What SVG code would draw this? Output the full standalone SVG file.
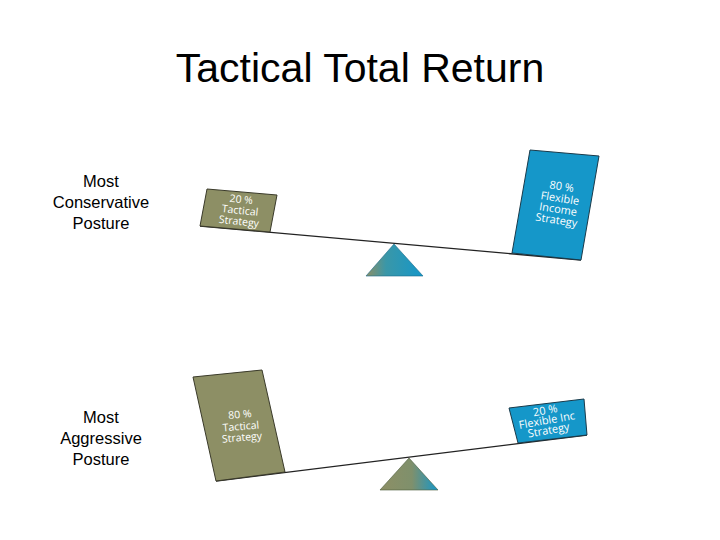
<svg xmlns="http://www.w3.org/2000/svg" width="720" height="540" viewBox="0 0 720 540">
<defs>
<linearGradient id="gTop" x1="0" y1="0" x2="1" y2="0">
<stop offset="0" stop-color="#8d8f65"/>
<stop offset="0.35" stop-color="#3a97a8"/>
<stop offset="1" stop-color="#1597c9"/>
</linearGradient>
<linearGradient id="gBot" x1="0" y1="0" x2="1" y2="0">
<stop offset="0" stop-color="#8d8f65"/>
<stop offset="0.55" stop-color="#7f906c"/>
<stop offset="1" stop-color="#1597c9"/>
</linearGradient>
<style>
.title{font-family:"Liberation Sans",Arial,sans-serif;font-size:41px;fill:#000}
.lbl{font-family:"Liberation Sans",Arial,sans-serif;font-size:16.5px;fill:#000;text-anchor:middle}
.olive{fill:#8d8f65;stroke:#3a3a2a;stroke-width:1}
.blue{fill:#1597c9;stroke:#1a3a4a;stroke-width:1}
.bt{font-family:"Open Sans","DejaVu Sans",sans-serif;font-size:10.5px;fill:#ffffff;text-anchor:middle}
.bt2{font-family:"Open Sans","DejaVu Sans",sans-serif;font-size:11px;fill:#ffffff;text-anchor:middle}
.beam{stroke:#222;stroke-width:1.3;fill:none}
</style>
</defs>
<rect width="720" height="540" fill="#ffffff"/>
<text class="title" x="360" y="82" text-anchor="middle">Tactical Total Return</text>

<g id="label-conservative">
<text class="lbl" x="101" y="187">Most</text>
<text class="lbl" x="101" y="208">Conservative</text>
<text class="lbl" x="101" y="229">Posture</text>
</g>
<g id="label-aggressive">
<text class="lbl" x="101" y="423">Most</text>
<text class="lbl" x="101" y="444">Aggressive</text>
<text class="lbl" x="101" y="465">Posture</text>
</g>

<g id="connectors">
<line class="beam" x1="200" y1="226" x2="581" y2="260"/>
<line class="beam" x1="216" y1="481" x2="587" y2="435"/>
</g>

<g id="top-fulcrum">
<polygon points="394,244 366,276 423,276" fill="url(#gTop)" stroke="#1a6a8a" stroke-width="0.6"/>
</g>
<g id="top-tactical">
<polygon class="olive" points="207,189 277,195 270,232 200,226"/>
<g transform="translate(240,211) rotate(6)">
<text class="bt" x="0" y="-8">20 %</text>
<text class="bt" x="0" y="3">Tactical</text>
<text class="bt" x="0" y="14">Strategy</text>
</g>
</g>
<g id="top-flexible">
<polygon class="blue" points="530,150 599,156 581,260 512,253"/>
<g transform="translate(559,204) rotate(9)">
<text class="bt2" x="0" y="-14">80 %</text>
<text class="bt2" x="0" y="-2">Flexible</text>
<text class="bt2" x="0" y="9">Income</text>
<text class="bt2" x="0" y="20">Strategy</text>
</g>
</g>

<g id="bottom-fulcrum">
<polygon points="409,458 380,490 438,490" fill="url(#gBot)" stroke="#4a5a3a" stroke-width="0.6"/>
</g>
<g id="bottom-tactical">
<polygon class="olive" points="193,377 262,370 285,472 216,481"/>
<g transform="translate(241,427) rotate(-5)">
<text class="bt" x="0" y="-9">80 %</text>
<text class="bt" x="0" y="3">Tactical</text>
<text class="bt" x="0" y="14">Strategy</text>
</g>
</g>
<g id="bottom-flexible">
<polygon class="blue" points="509,408 584,399 587,435 518,443"/>
<g transform="translate(547,421) rotate(-10)">
<text class="bt2" x="0" y="-7">20 %</text>
<text class="bt2" x="0" y="3">Flexible Inc</text>
<text class="bt2" x="0" y="13">Strategy</text>
</g>
</g>
</svg>
